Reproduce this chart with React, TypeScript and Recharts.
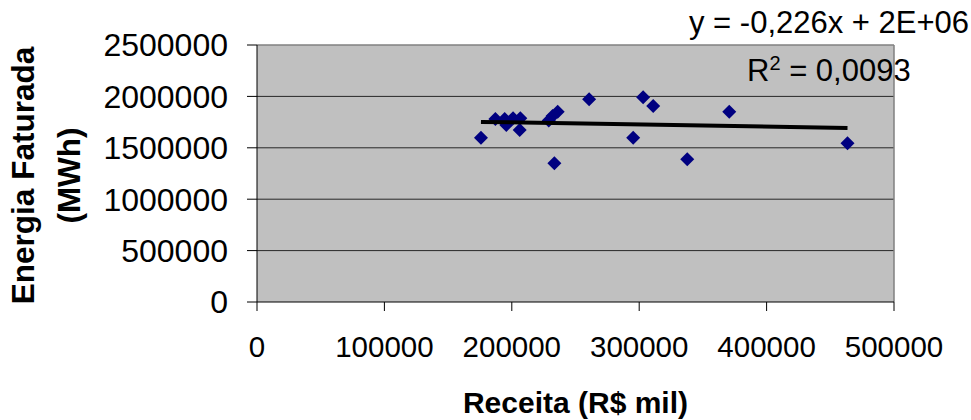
import { ScatterChart, Scatter, XAxis, YAxis, CartesianGrid, ReferenceLine, Label } from 'recharts';

const receita = [175800, 187100, 194400, 195700, 201000, 206700, 206200, 229000, 232000, 236000, 233400, 260700, 295300, 303100, 311000, 337700, 370700, 463500];
const energia = [1598000, 1780000, 1780000, 1722000, 1787000, 1787000, 1673000, 1765000, 1810000, 1850000, 1349000, 1972000, 1598000, 1991000, 1907000, 1388000, 1851000, 1544000];

// trendline endpoints
const trendX = [175800, 463500];
const trendY = [1752000, 1693000];

const xTicks = [0, 100000, 200000, 300000, 400000, 500000];
const yTicks = [0, 500000, 1000000, 1500000, 2000000, 2500000];
const gridValues = [500000, 1000000, 1500000, 2000000];

const points = receita.map((x, i) => ({ x, y: energia[i] }));
const trend = trendX.map((x, i) => ({ x, y: trendY[i] }));

const FONT = 'Arial, "Liberation Sans", sans-serif';

const Diamond = (props: any) => {
  const { cx, cy } = props;
  const r = 7;
  return <polygon points={`${cx},${cy - r} ${cx + r},${cy} ${cx},${cy + r} ${cx - r},${cy}`} fill="#000080" />;
};

export default function App() {
  return (
    <div style={{ position: 'absolute', left: 0, top: 0, width: 971, height: 420, background: '#fff', fontFamily: FONT }}>
      <ScatterChart width={971} height={420} margin={{ top: 45, right: 77, bottom: 0, left: 0 }}>
        <CartesianGrid fill="#C0C0C0" vertical={false} horizontalValues={gridValues} stroke="#000" strokeOpacity={0.8} />
        <ReferenceLine y={2500000} stroke="#808080" strokeWidth={1.5} />
        <ReferenceLine x={500000} stroke="#808080" strokeWidth={1.5} />
        <XAxis
          type="number"
          dataKey="x"
          domain={[0, 500000]}
          ticks={xTicks}
          height={118}
          stroke="#000"
          tickSize={9}
          tickMargin={25}
          tick={{ fill: '#000', fontSize: 29.5, fontFamily: FONT }}
          interval={0}
        >
          <Label
            content={(p: any) => {
              const vb = p.viewBox;
              return (
                <text x={vb.x + vb.width / 2} y={vb.y + 111} textAnchor="middle" fontSize={30} fontWeight="bold" fontFamily={FONT} fill="#000">
                  Receita (R$ mil)
                </text>
              );
            }}
          />
        </XAxis>
        <YAxis
          type="number"
          dataKey="y"
          domain={[0, 2500000]}
          ticks={yTicks}
          width={257}
          stroke="#000"
          tickSize={10}
          tickMargin={19}
          tick={{ fill: '#000', fontSize: 32, fontFamily: FONT }}
          interval={0}
        >
          <Label
            content={(p: any) => {
              const vb = p.viewBox;
              const cy = vb.y + vb.height / 2 + 2;
              return (
                <g>
                  <text x={34} y={cy} transform={`rotate(-90 34 ${cy})`} textAnchor="middle" fontSize={31.5} fontWeight="bold" fontFamily={FONT} fill="#000">
                    Energia Faturada
                  </text>
                  <text x={80} y={cy} transform={`rotate(-90 80 ${cy})`} textAnchor="middle" fontSize={31.5} fontWeight="bold" fontFamily={FONT} fill="#000">
                    (MWh)
                  </text>
                </g>
              );
            }}
          />
        </YAxis>
        <Scatter data={points} shape={<Diamond />} isAnimationActive={false} />
        <Scatter data={trend} line={{ stroke: '#000', strokeWidth: 4 }} shape={() => null} isAnimationActive={false} />
      </ScatterChart>
      <div style={{ position: 'absolute', left: 689, top: 5, fontSize: 31, lineHeight: '36px', color: '#000', whiteSpace: 'nowrap' }}>
        y = -0,226x + 2E+06
      </div>
      <div style={{ position: 'absolute', left: 747, top: 53, fontSize: 31, lineHeight: '36px', color: '#000', whiteSpace: 'nowrap' }}>
        R<sup style={{ fontSize: 20, verticalAlign: 'top', lineHeight: '20px' }}>2</sup> = 0,0093
      </div>
    </div>
  );
}
